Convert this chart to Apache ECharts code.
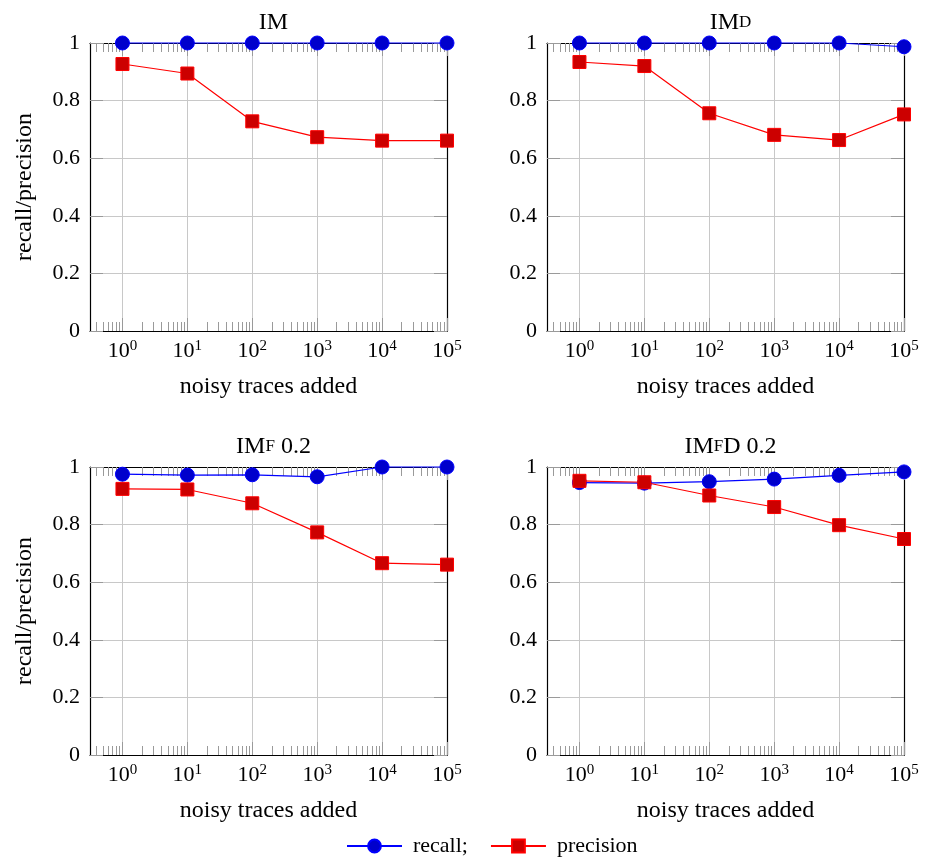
<!DOCTYPE html>
<html><head><meta charset="utf-8">
<script src="https://cdn.jsdelivr.net/npm/echarts@6/dist/echarts.min.js"></script>
<style>html,body{margin:0;padding:0;background:#fff}#c{width:931px;height:860px}</style>
</head><body><div id="c"></div>
<script>
// ---- data ----
const traces = [1, 10, 100, 1000, 10000, 100000];
const xTickExponents = [0, 1, 2, 3, 4, 5];
const yTickValues = [0, 0.2, 0.4, 0.6, 0.8, 1];

const recallIM = [1, 1, 1, 1, 1, 1];
const precisionIM = [0.927, 0.894, 0.728, 0.673, 0.661, 0.661];
const recallIMd = [1, 1, 1, 1, 1, 0.987];
const precisionIMd = [0.934, 0.920, 0.756, 0.681, 0.663, 0.752];
const recallIMf = [0.975, 0.972, 0.973, 0.966, 1, 1];
const precisionIMf = [0.924, 0.922, 0.874, 0.773, 0.666, 0.661];
const recallIMfD = [0.946, 0.944, 0.949, 0.958, 0.971, 0.983];
const precisionIMfD = [0.952, 0.947, 0.901, 0.861, 0.798, 0.750];

const panelTitles = ['IM', 'IM{sc|D}', 'IM{sc|F} 0.2', 'IM{sc|F}D 0.2'];
const seriesNames = ['recall;', 'precision'];
const xAxisName = 'noisy traces added';
const yAxisName = 'recall/precision';

// ---- layout / style ----
const FONT = '"Liberation Serif", "Times New Roman", serif';
const X_MIN = -0.5, X_MAX = 5;
const panels = [
  {left: 90, top: 43, recall: recallIM, precision: precisionIM, yName: true},
  {left: 547, top: 43, recall: recallIMd, precision: precisionIMd, yName: false},
  {left: 90, top: 467, recall: recallIMf, precision: precisionIMf, yName: true},
  {left: 547, top: 467, recall: recallIMfD, precision: precisionIMfD, yName: false}
];
const W = 357, H = 288;

// minor log ticks within the visible range
const minorTicks = [];
for (let d = -1; d <= 4; d++) {
  for (let k = 2; k <= 9; k++) {
    const v = Math.log10(k * Math.pow(10, d));
    if (v > X_MIN && v < X_MAX) minorTicks.push(v);
  }
}

const grid = [], xAxis = [], yAxis = [], series = [], title = [];
const tickColor = '#9a9a9a';
const gridColor = '#c8c8c8';

panels.forEach((p, g) => {
  grid.push({left: p.left, top: p.top, width: W, height: H, containLabel: false});
  title.push({
    text: panelTitles[g],
    left: p.left + W / 2, top: p.top - 37, textAlign: 'center',
    textStyle: {fontFamily: FONT, fontSize: 24, fontWeight: 'normal', color: '#000',
      rich: {sc: {fontFamily: FONT, fontSize: 17, color: '#000'}}}
  });
  const base = {gridIndex: g, type: 'value', min: X_MIN, max: X_MAX};
  // bottom major
  xAxis.push(Object.assign({}, base, {
    position: 'bottom',
    axisLine: {show: true, onZero: false, lineStyle: {color: '#000', width: 1.2}},
    axisTick: {show: true, inside: true, length: 13, customValues: xTickExponents, lineStyle: {color: tickColor}},
    axisLabel: {
      show: true, customValues: xTickExponents, margin: 8,
      formatter: v => '{b|10}{s|' + Math.round(v) + '}',
      rich: {
        b: {fontFamily: FONT, fontSize: 22, color: '#000', lineHeight: 24},
        s: {fontFamily: FONT, fontSize: 15, color: '#000', verticalAlign: 'top', lineHeight: 14}
      }
    },
    splitLine: {show: true, lineStyle: {color: gridColor, width: 1}},
    name: xAxisName, nameLocation: 'middle', nameGap: 44,
    nameTextStyle: {fontFamily: FONT, fontSize: 24, color: '#000'}
  }));
  // bottom minor
  xAxis.push(Object.assign({}, base, {
    position: 'bottom',
    axisLine: {show: false, onZero: false},
    axisTick: {show: true, inside: true, length: 9, customValues: minorTicks, lineStyle: {color: tickColor}},
    axisLabel: {show: false}, splitLine: {show: false}
  }));
  // top major
  xAxis.push(Object.assign({}, base, {
    position: 'top',
    axisLine: {show: true, onZero: false, lineStyle: {color: '#000', width: 1.2}},
    axisTick: {show: true, inside: true, length: 13, customValues: xTickExponents, lineStyle: {color: tickColor}},
    axisLabel: {show: false}, splitLine: {show: false}
  }));
  // top minor
  xAxis.push(Object.assign({}, base, {
    position: 'top',
    axisLine: {show: false, onZero: false},
    axisTick: {show: true, inside: true, length: 9, customValues: minorTicks, lineStyle: {color: tickColor}},
    axisLabel: {show: false}, splitLine: {show: false}
  }));
  // left y
  yAxis.push({
    gridIndex: g, type: 'value', min: 0, max: 1, interval: 0.2, position: 'left',
    axisLine: {show: true, onZero: false, lineStyle: {color: '#000', width: 1.2}},
    axisTick: {show: true, inside: true, length: 13, lineStyle: {color: tickColor}},
    axisLabel: {show: true, margin: 10, fontFamily: FONT, fontSize: 22, color: '#000'},
    splitLine: {show: true, lineStyle: {color: gridColor, width: 1}},
    name: p.yName ? yAxisName : '', nameLocation: 'middle', nameGap: 53,
    nameTextStyle: {fontFamily: FONT, fontSize: 24, color: '#000'}
  });
  // right y
  yAxis.push({
    gridIndex: g, type: 'value', min: 0, max: 1, interval: 0.2, position: 'right',
    axisLine: {show: true, onZero: false, lineStyle: {color: '#000', width: 1.2}},
    axisTick: {show: true, inside: true, length: 13, lineStyle: {color: tickColor}},
    axisLabel: {show: false}, splitLine: {show: false}
  });

  series.push({
    type: 'line', name: seriesNames[0], xAxisIndex: g * 4, yAxisIndex: g * 2,
    data: traces.map((t, i) => [Math.log10(t), p.recall[i]]),
    symbol: 'circle', symbolSize: 14, clip: false,
    itemStyle: {color: '#0000cc', borderColor: '#0000ff', borderWidth: 1},
    lineStyle: {color: '#0000ff', width: 1.2}, z: 3
  });
  series.push({
    type: 'line', name: seriesNames[1], xAxisIndex: g * 4, yAxisIndex: g * 2,
    data: traces.map((t, i) => [Math.log10(t), p.precision[i]]),
    symbol: 'rect', symbolSize: 13, clip: false,
    itemStyle: {color: '#cc0000', borderColor: '#ff0000', borderWidth: 1},
    lineStyle: {color: '#ff0000', width: 1.2}, z: 4
  });
});

const chart = echarts.init(document.getElementById('c'), null, {renderer: 'canvas'});
chart.setOption({
  animation: false,
  backgroundColor: '#fff',
  title, grid, xAxis, yAxis, series,
  legend: {
    data: seriesNames, left: 341, top: 830,
    itemWidth: 55, itemHeight: 16, itemGap: 22,
    textStyle: {fontFamily: FONT, fontSize: 22, color: '#000', padding: [0, 0, 0, 6]}
  }
});
</script></body></html>
